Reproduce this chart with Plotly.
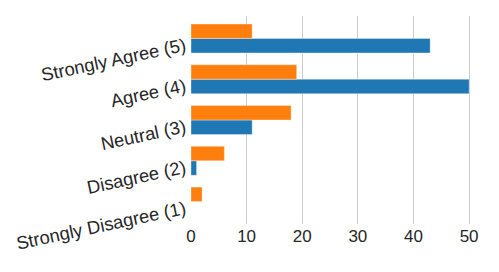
import plotly.graph_objects as go

categories = ["Strongly Disagree (1)", "Disagree (2)", "Neutral (3)", "Agree (4)", "Strongly Agree (5)"]
series_blue = [0, 1, 11, 50, 43]
series_orange = [2, 6, 18, 19, 11]
x_ticks = [0, 10, 20, 30, 40, 50]

fig = go.Figure()
fig.add_trace(go.Bar(y=categories, x=series_blue, orientation="h", name="blue",
                     marker=dict(color="#1f77b4", line=dict(color="rgba(255,255,255,0.35)", width=1))))
fig.add_trace(go.Bar(y=categories, x=series_orange, orientation="h", name="orange",
                     marker=dict(color="#ff7f0e", line=dict(color="rgba(255,255,255,0.35)", width=1))))

# page body has an 8px default margin, so the figure margins compensate for it
fig.update_layout(
    width=499, height=272,
    margin=dict(l=183, r=24, t=8, b=56),
    barmode="group", bargap=0.29, bargroupgap=0,
    showlegend=False,
    plot_bgcolor="white", paper_bgcolor="white",
    font=dict(family="Liberation Sans, Arial, sans-serif", size=16, color="#262626"),
)
fig.update_xaxes(range=[0, 52.5], tickvals=x_ticks, showgrid=True, gridcolor="#cccccc", gridwidth=1,
                 zeroline=False, showline=False, ticks="", ticklen=0, automargin=False,
                 tickfont=dict(size=17))
fig.update_yaxes(range=[-0.55, 4.55], tickangle=-12, showgrid=False, zeroline=False, showline=False,
                 ticks="", ticklabelstandoff=5, ticklabelshift=6, automargin=False,
                 tickfont=dict(size=18.3))

fig.write_html("out.html")
